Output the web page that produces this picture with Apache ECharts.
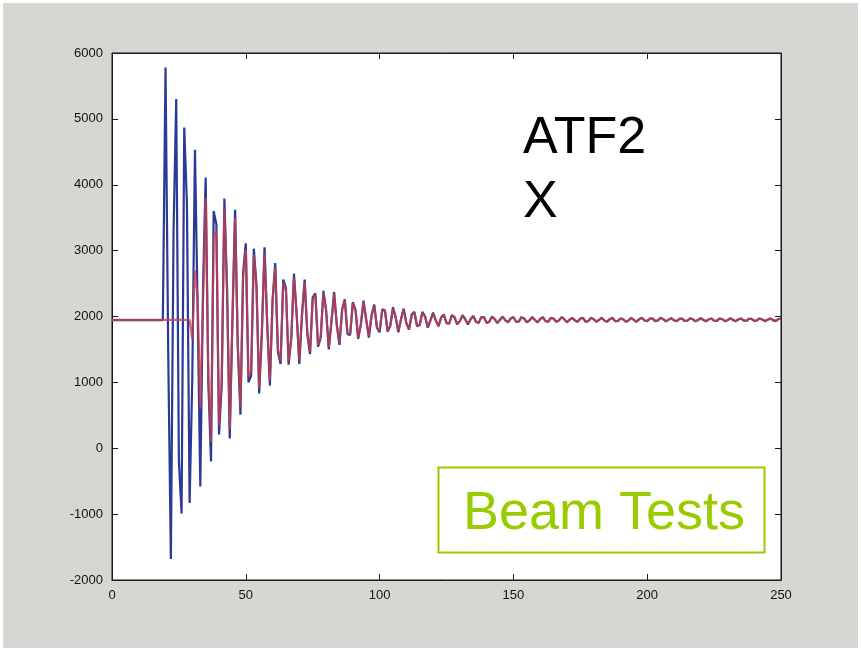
<!DOCTYPE html>
<html>
<head>
<meta charset="utf-8">
<script src="https://cdn.jsdelivr.net/npm/echarts@6/dist/echarts.min.js"></script>
<style>
  html, body { margin: 0; padding: 0; background: #ffffff; }
  #chart {
    position: absolute; left: 0; top: 0;
    width: 861px; height: 651px;
    background: #d6d6d2;
    box-shadow: inset 0 0 0 3px #ffffff;
  }
</style>
</head>
<body>
<div id="chart"></div>
<script>
// Horizontal beam position per turn (turn index = array index, 0..250)
const blueOrbit = [
  1945,1945,1945,1945,1945,1945,1945,1945,1945,1945,
  1945,1945,1945,1945,1945,1945,1945,1945,1945,1945,
  5780,1480,-1680,3280,5300,-200,-990,4870,3720,-830,
  1050,4530,2110,-580,2400,4110,990,-200,3600,3400,
  210,960,3790,2420,150,1950,3620,1550,510,2670,
  3110,1000,1100,3030,2470,830,1740,3050,1880,950,
  2250,2810,1460,1280,2560,2430,1270,1670,2650,2040,
  1280,2030,2560,1730,1430,2290,2350,1540,1680,2390,
  2100,1500,1920,2370,1870,1570,2110,2260,1730,1720,
  2220,2100,1660,1880,2240,1950,1680,2020,2180,1830,
  1760,2110,2090,1770,1860,2140,1990,1760,1960,2120,
  1900,1800,2030,2070,1850,1870,2070,2000,1830,1940,
  2060,1940,1850,1985,2030,1900,1890,2020,1990,1880,
  1930,2020,1960,1880,1960,2010,1920,1900,1990,1990,
  1900,1920,2000,1960,1900,1950,2000,1940,1910,1970,
  1990,1920,1920,1990,1970,1910,1940,1990,1950,1910,
  1960,1990,1930,1920,1980,1970,1920,1940,1990,1960,
  1910,1950,1980,1940,1920,1970,1980,1920,1930,1980,
  1960,1920,1950,1980,1940,1920,1960,1980,1930,1930,
  1970,1960,1920,1940,1980,1950,1920,1960,1980,1940,
  1930,1970,1970,1930,1940,1980,1960,1925,1952,1975,
  1942,1928,1963,1968,1933,1936,1971,1959,1927,1947,
  1974,1947,1928,1958,1970,1936,1933,1968,1962,1929,
  1943,1972,1951,1928,1954,1971,1941,1931,1964,1965,
  1932,1940,1970,1955,1929,1950,1971,1945,1930,1960,
  1967
];

const redOrbit = [
  1950,1950,1950,1950,1950,1950,1950,1950,1950,1950,
  1950,1950,1950,1950,1950,1950,1950,1950,1950,1950,
  1950,1950,1950,1950,1950,1950,1950,1950,1950,
  1950,1650,2700,2300,600,2200,3800,1100,100,3200,3300,
  350,1040,3640,2380,290,1950,3490,1580,630,2610,
  3020,1080,1170,2940,2430,920,1760,2960,1890,1030,
  2230,2740,1500,1330,2510,2390,1320,1690,2590,2030,
  1330,2020,2510,1750,1470,2260,2320,1570,1700,2360,
  2090,1540,1920,2340,1880,1600,2100,2240,1750,1740,
  2200,2090,1680,1890,2220,1950,1700,2010,2160,1840,
  1780,2100,2080,1780,1870,2120,1990,1780,1960,2110,
  1900,1810,2020,2060,1860,1880,2060,2000,1840,1940,
  2050,1940,1860,1982,2024,1904,1895,2014,1987,1886,
  1932,2014,1959,1886,1959,2005,1922,1904,1987,1987,
  1904,1922,1996,1959,1904,1950,1996,1941,1913,1968,
  1987,1922,1922,1987,1968,1913,1941,1987,1950,1913,
  1959,1987,1931,1922,1977,1968,1922,1941,1987,1959,
  1913,1950,1978,1941,1922,1968,1978,1922,1932,1978,
  1959,1922,1950,1978,1941,1922,1959,1978,1932,1932,
  1968,1959,1922,1941,1978,1950,1922,1959,1978,1941,
  1932,1968,1968,1932,1941,1977,1959,1927,1952,1973,
  1943,1930,1962,1967,1935,1937,1969,1958,1929,1947,
  1972,1947,1930,1957,1968,1937,1934,1967,1961,1931,
  1944,1970,1951,1930,1954,1969,1942,1933,1963,1964,
  1934,1941,1968,1955,1931,1950,1969,1946,1932,1959,
  1965
];

// Axis ranges and tick spacing
const xRange = [0, 250];
const xStep = 50;
const yRange = [-2000, 6000];
const yStep = 1000;

// Annotation texts
const titleLines = ['ATF2', 'X'];
const badgeText = 'Beam Tests';

const chart = echarts.init(document.getElementById('chart'), null, { renderer: 'canvas' });

const tickFont = {
  color: '#111111',
  fontSize: 13,
  fontFamily: '"Liberation Sans", Arial, sans-serif'
};

const gridBox = { left: 112, top: 53, width: 669, height: 527 };

function axisCommon(showLabel) {
  return {
    axisLine: { show: true, onZero: false, lineStyle: { color: '#1a1a1a', width: 1 } },
    axisTick: { show: true, inside: true, length: 6, lineStyle: { color: '#1a1a1a', width: 1 } },
    splitLine: { show: false },
    axisLabel: Object.assign({ show: showLabel, margin: 9, formatter: v => String(v) }, tickFont)
  };
}

const toPairs = arr => arr.map((v, i) => [i, v]);

chart.setOption({
  animation: false,
  grid: Object.assign({ show: true, backgroundColor: '#ffffff', borderColor: '#1a1a1a', borderWidth: 1 }, gridBox),
  xAxis: [
    Object.assign({ type: 'value', position: 'bottom', min: xRange[0], max: xRange[1], interval: xStep }, axisCommon(true)),
    Object.assign({ type: 'value', position: 'top', min: xRange[0], max: xRange[1], interval: xStep }, axisCommon(false))
  ],
  yAxis: [
    Object.assign({ type: 'value', position: 'left', min: yRange[0], max: yRange[1], interval: yStep }, axisCommon(true)),
    Object.assign({ type: 'value', position: 'right', min: yRange[0], max: yRange[1], interval: yStep }, axisCommon(false))
  ],
  series: [
    {
      name: 'blue', type: 'line', xAxisIndex: 0, yAxisIndex: 0,
      data: toPairs(blueOrbit), showSymbol: false, symbol: 'none',
      lineStyle: { color: '#2b3a96', width: 2.2 }, z: 2
    },
    {
      name: 'red', type: 'line', xAxisIndex: 0, yAxisIndex: 0,
      data: toPairs(redOrbit), showSymbol: false, symbol: 'none',
      lineStyle: { color: '#c8404c', width: 2.2, opacity: 0.78 }, z: 3
    }
  ],
  graphic: [
    {
      type: 'text', left: 523, top: 107, z: 10,
      style: {
        text: titleLines.join('\n'), fill: '#000000',
        font: '52px "Liberation Sans", Arial, sans-serif', lineHeight: 64
      }
    },
    {
      type: 'rect', z: 10,
      shape: { x: 438.5, y: 467.5, width: 326, height: 85 },
      style: { fill: '#ffffff', stroke: '#99cc00', lineWidth: 2 }
    },
    {
      type: 'text', z: 11, left: 463, top: 487,
      style: {
        text: badgeText, fill: '#99cc00',
        font: '54px "Liberation Sans", Arial, sans-serif'
      }
    }
  ]
});
</script>
</body>
</html>
